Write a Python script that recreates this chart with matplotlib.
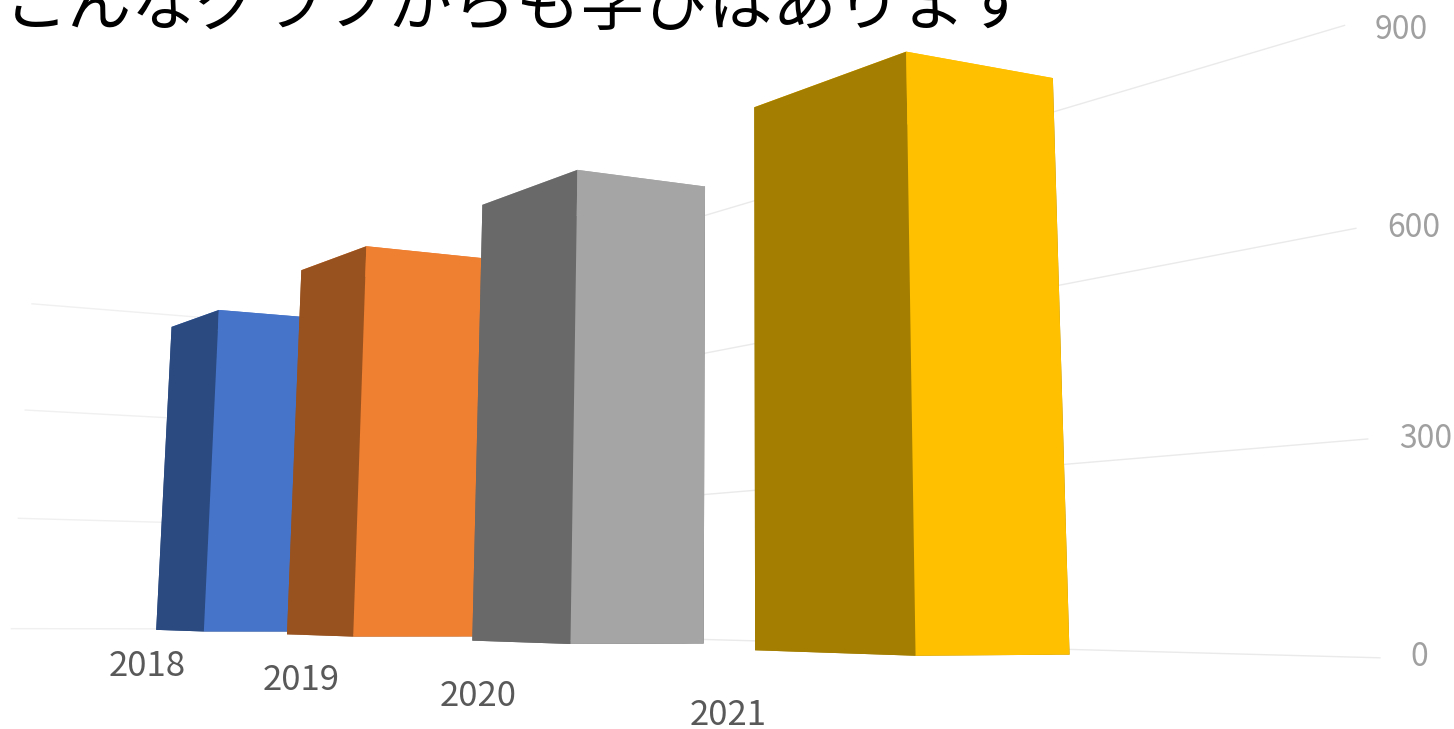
import matplotlib
matplotlib.use('Agg')
import matplotlib.pyplot as plt
from mpl_toolkits.mplot3d import proj3d

plt.rcParams['font.family'] = ['Noto Sans CJK JP', 'DejaVu Sans']

# データ
title = 'こんなグラフからも学びはあります'
years = ['2018', '2019', '2020', '2021']
values = [825, 850, 847, 843]
ticks = [0, 300, 600, 900]

side_colors = ['#2A4A80', '#985220', '#696969', '#A47E00']
front_colors = ['#4674C9', '#EF7F31', '#A5A5A5', '#FFC000']

W, H = 1454, 729
S = 1945.8  # 3D axes size in pixels
fig = plt.figure(figsize=(W / 100, H / 100), dpi=100)
ax = fig.add_axes([(644.8 - S / 2) / W, (H - 252.8 - S / 2) / H, S / W, S / H],
                  projection='3d', computed_zorder=False)
ax.set_xlim(0.381, 4.381)
ax.set_ylim(0.29, 1.29)
ax.set_zlim(380.5, 1280.5)
ax.set_box_aspect((4.3853, 1, 1.0127), zoom=1)
ax.set_proj_type('persp', focal_length=0.1961)
ax.view_init(elev=-10.578, azim=-31.214, roll=-0.346)
ax.set_axis_off()


def label(x, y, z, text, dx, dy, **kw):
    # 3Dの位置を2Dに変換してから置く
    xp, yp, _ = proj3d.proj_transform(x, y, z, ax.get_proj())
    ax.annotate(text, (xp, yp), xytext=(dx * 0.72, dy * 0.72),
                textcoords='offset points', ha='center', va='center',
                annotation_clip=False, **kw)


# 目盛り線 (back wall and side wall)
tick_dx = [39, 58, 58, 57]
tick_dy = [1, 0, 0, -5]
for k, t in enumerate(ticks):
    ax.plot([0, 4], [1, 1], [t, t], color='#EAEAEA', lw=1, zorder=1, clip_on=False)
    ax.plot([0, 0], [0, 1], [t, t], color='#F0F0F0', lw=1, zorder=1, clip_on=False)
    label(4, 1, t, str(t), tick_dx[k], tick_dy[k], color='#A0A0A0', fontsize=23)

# 棒
bar_w = 0.4017
y0 = 0.352
depths = [0.3093, 0.322, 0.3093, 0.3093]
year_dx = [14, 34, 18, -35]
year_dy = [-4, -8, -9, -4]
for i, v in enumerate(values):
    faces = [side_colors[i], front_colors[i], side_colors[i],
             side_colors[i], side_colors[i], front_colors[i]]
    ax.bar3d(i + 0.5 - bar_w / 2, y0, 0, bar_w, depths[i], v, color=faces,
             shade=False, edgecolor='none', linewidth=0, zorder=i + 2)
    label(i + 0.5, 0.22, -80, years[i], year_dx[i], year_dy[i], color='#595959', fontsize=25)

fig.text(4 / W, 1 - 25 / H, title, fontsize=46.2, color='black',
         ha='left', va='baseline')

fig.savefig('out.png', dpi=100, facecolor='white')
